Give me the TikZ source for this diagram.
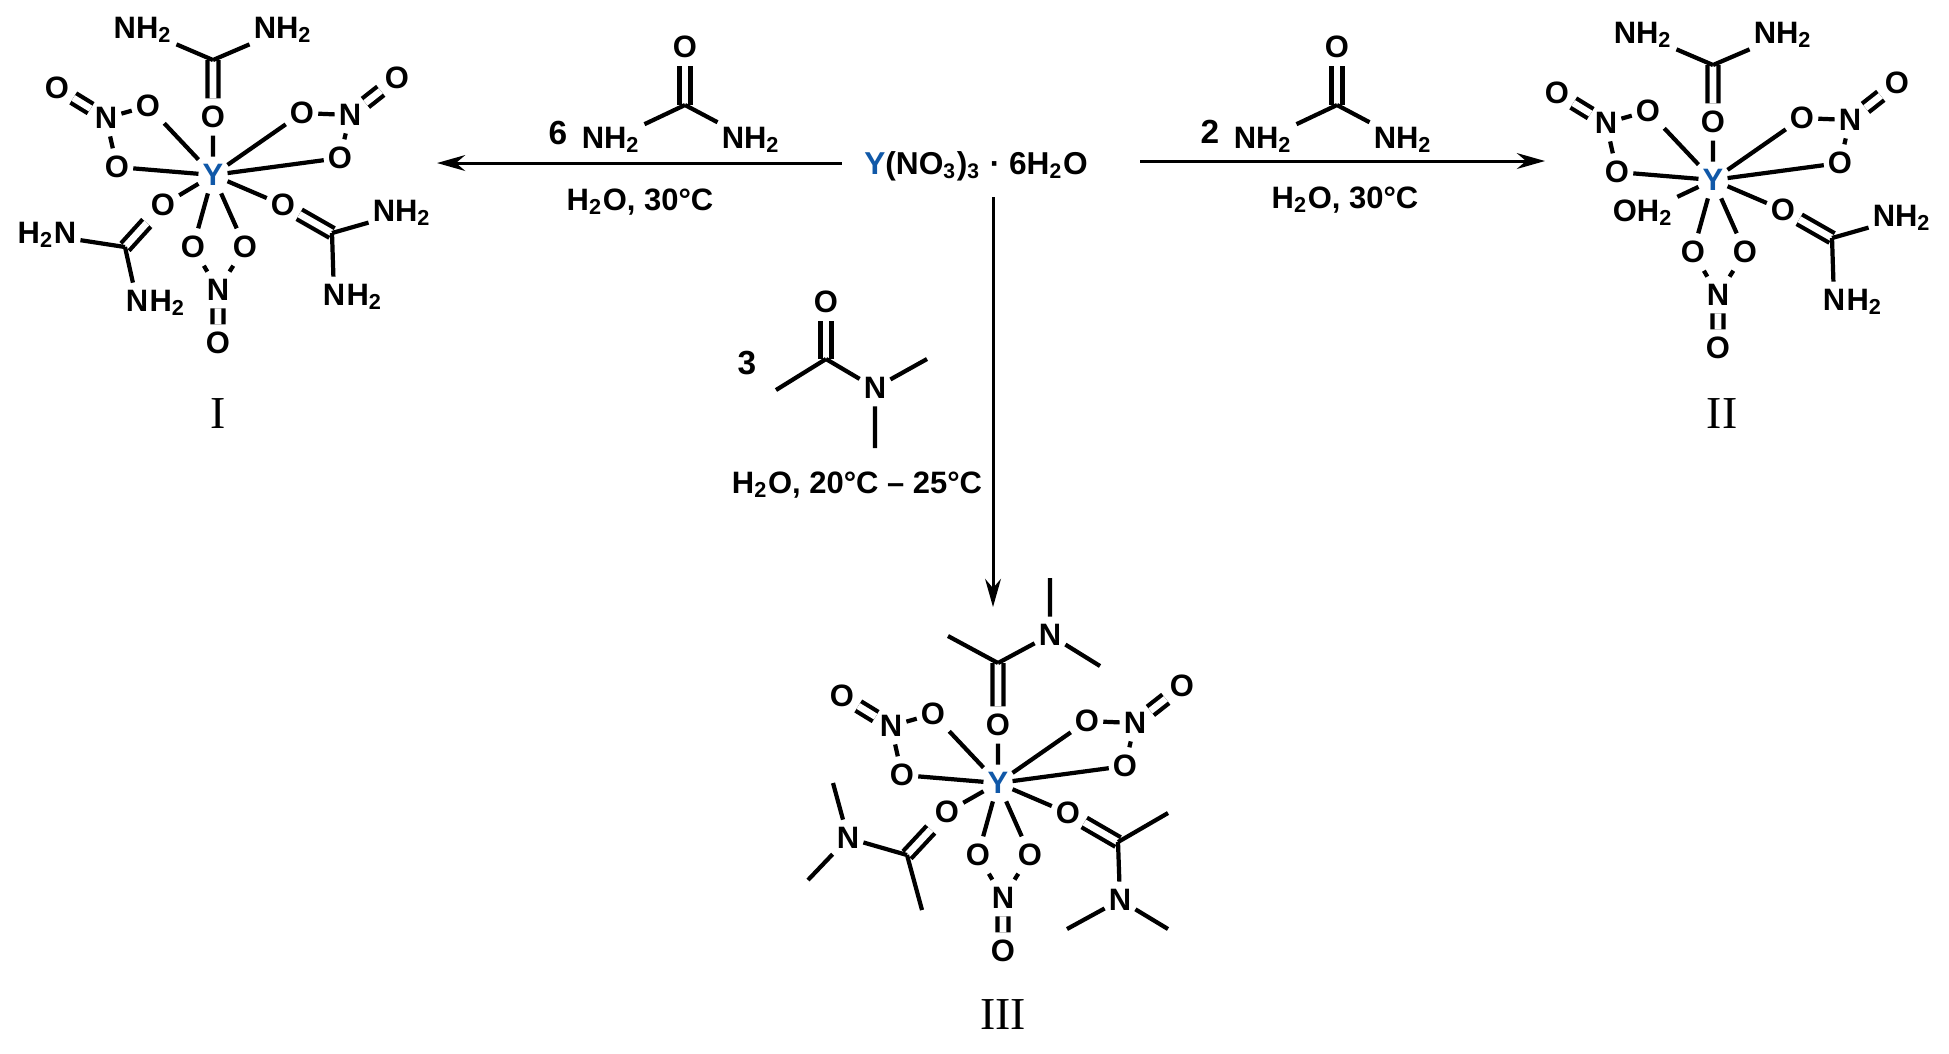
\documentclass[tikz,border=0pt]{standalone}
\usepackage{fontspec}
\setmainfont{Liberation Serif}
\setsansfont{Liberation Sans}
\usetikzlibrary{arrows.meta}
\definecolor{yblue}{RGB}{16,88,168}
\newcommand\chemfont{\fontsize{8.8}{10}\selectfont\sffamily\bfseries}
\tikzset{
  atom/.style={font=\chemfont, inner xsep=1pt, inner ysep=2pt},
  yatom/.style={atom, text=yblue},
  bond/.style={line width=1.2pt},
  dbond/.style={line width=1.2pt, double, double distance=1.9pt},
  rxn/.style={line width=0.85pt, -{Stealth[length=8pt,width=4.5pt]}},
  cmpd/.style={font=\fontsize{13}{15}\selectfont\rmfamily},
  cond/.style={font=\chemfont, inner sep=0pt},
  coef/.style={font=\fontsize{9.5}{11}\selectfont\sffamily\bfseries, inner sep=0pt},
}
\newcommand\NHtwo[2]{%
  \node[atom] (#1) at (#2) {N};
  \node[atom, anchor=base west, inner sep=0pt, xshift=-1pt] (#1h) at (#1.base east) {H\textsubscript{2}};}
\newcommand\ycore[1]{%
  \node[yatom] (#1Y) at (0,0) {Y};
  \node[atom] (#1Ot) at (0,-58) {O};
  \node[atom] (#1a1) at (-65,-69) {O};
  \node[atom] (#1aN) at (-107,-57) {N};
  \node[atom] (#1a2) at (-156,-87) {O};
  \node[atom] (#1a3) at (-96,-8) {O};
  \node[atom] (#1b1) at (89,-62) {O};
  \node[atom] (#1bN) at (137,-60) {N};
  \node[atom] (#1b2) at (184,-97) {O};
  \node[atom] (#1b3) at (127,-17) {O};
  \node[atom] (#1c1) at (-20,72) {O};
  \node[atom] (#1c2) at (32,72) {O};
  \node[atom] (#1cN) at (5,115) {N};
  \node[atom] (#1c3) at (5,168) {O};
  \node[atom] (#1Or) at (70,30) {O};
  \draw[dbond] (#1aN) -- (#1a2) (#1bN) -- (#1b2) (#1cN) -- (#1c3);
  \draw[bond] (#1Y) -- (#1Ot) (#1Y) -- (#1a1) (#1Y) -- (#1a3) (#1Y) -- (#1b1)
    (#1Y) -- (#1b3) (#1Y) -- (#1c1) (#1Y) -- (#1c2) (#1Y) -- (#1Or)
    (#1aN) -- (#1a1) (#1aN) -- (#1a3) (#1bN) -- (#1b1) (#1bN) -- (#1b3)
    (#1cN) -- (#1c1) (#1cN) -- (#1c2);
}
\newcommand\topurea[1]{%
  \coordinate (#1Ct) at (0,-115);
  \node[atom] (#1n1) at (-70,-145) {NH\textsubscript{2}};
  \node[atom] (#1n2) at (70,-145) {NH\textsubscript{2}};
  \coordinate (#1Cr) at (119,58);
  \node[atom] (#1n5) at (189,38) {NH\textsubscript{2}};
  \NHtwo{#1n6}{121,120}
  \draw[dbond] (#1Ct) -- (#1Ot) (#1Cr) -- (#1Or);
  \draw[bond] (#1Ct) -- (#1n1) (#1Ct) -- (#1n2) (#1Cr) -- (#1n5) (#1Cr) -- (#1n6);
}
\begin{document}
\begin{tikzpicture}[x=0.01cm, y=-0.01cm]
\fill[white] (0,0) rectangle (1949,1053);
\useasboundingbox (0,0) rectangle (1949,1053);

% ---------- complex I ----------
\begin{scope}[shift={(213,175)}]
  \ycore{p}
  \topurea{p}
  \node[atom] (pOl) at (-50,30) {O};
  \coordinate (pCl) at (-88,72);
  \node[atom] (pn3) at (-166,60) {H\textsubscript{2}N};
  \NHtwo{pn4}{-76,126}
  \draw[dbond] (pCl) -- (pOl);
  \draw[bond] (pY) -- (pOl) (pCl) -- (pn3) (pCl) -- (pn4);
\end{scope}
\node[cmpd] (labI) at (218,414) {I};

% ---------- complex II ----------
\begin{scope}[shift={(1713,180)}]
  \ycore{q}
  \topurea{q}
  \node[atom] (qw) at (-70,33) {OH\textsubscript{2}};
  \draw[bond] (qY) -- (qw);
\end{scope}
\node[cmpd] (labII) at (1722,414) {II};

% ---------- complex III ----------
\begin{scope}[shift={(998,783)}]
  \ycore{r}
  \coordinate (rCt) at (0,-120);
  \coordinate (rMt) at (-50,-147);
  \node[atom] (rNt) at (52,-148) {N};
  \coordinate (rMt1) at (52,-205);
  \coordinate (rMt2) at (102,-117);
  \node[atom] (rOl) at (-51,29) {O};
  \coordinate (rCl) at (-91,72);
  \coordinate (rMl) at (-76,127);
  \node[atom] (rNl) at (-150,55) {N};
  \coordinate (rMl1) at (-165,0);
  \coordinate (rMl2) at (-190,97);
  \coordinate (rCr) at (120,59);
  \coordinate (rMr) at (170,30);
  \node[atom] (rNr) at (122,117) {N};
  \coordinate (rMr1) at (69,146);
  \coordinate (rMr2) at (170,146);
  \draw[dbond] (rCt) -- (rOt) (rCl) -- (rOl) (rCr) -- (rOr);
  \draw[bond] (rCt) -- (rMt) (rCt) -- (rNt) (rNt) -- (rMt1) (rNt) -- (rMt2)
    (rY) -- (rOl) (rCl) -- (rMl) (rCl) -- (rNl) (rNl) -- (rMl1) (rNl) -- (rMl2)
    (rCr) -- (rMr) (rCr) -- (rNr) (rNr) -- (rMr1) (rNr) -- (rMr2);
\end{scope}
\node[cmpd] (labIII) at (1003,1014) {III};

% ---------- starting material ----------
\node[cond, inner xsep=6.2pt, font=\fontsize{9}{11}\selectfont\sffamily\bfseries] (form) at (976,166)
  {\textcolor{yblue}{Y}(NO\textsubscript{3})\textsubscript{3} · 6H\textsubscript{2}O};

\coordinate (e1) at (437,163);
\coordinate (e2) at (1545,161);
\coordinate (e3) at (993,607);
\draw[rxn] (e1 -| form.west) -- (e1);
\draw[rxn, shorten <=8.5pt] (e2 -| form.east) -- (e2);
\draw[rxn, shorten <=4.5pt] (e3 |- form.south) -- (e3);

% ---------- reagent: 6 urea ----------
\node[coef] (six) at (558,133) {6};
\node[atom] (uO1) at (685,47) {O};
\coordinate (uC1) at (685,105);
\node[atom] (un1) at (611,140) {NH\textsubscript{2}};
\node[atom] (un2) at (751,140) {NH\textsubscript{2}};
\draw[dbond] (uC1) -- (uO1);
\draw[bond] (uC1) -- (un1) (uC1) -- (un2);
\node[cond] (cond1) at (640,202) {H\textsubscript{2}O, 30°C};

% ---------- reagent: 2 urea ----------
\node[coef] (two) at (1210,132) {2};
\node[atom] (uO2) at (1337,47) {O};
\coordinate (uC2) at (1337,105);
\node[atom] (un3) at (1263,140) {NH\textsubscript{2}};
\node[atom] (un4) at (1403,140) {NH\textsubscript{2}};
\draw[dbond] (uC2) -- (uO2);
\draw[bond] (uC2) -- (un3) (uC2) -- (un4);
\node[cond] (cond2) at (1345,200) {H\textsubscript{2}O, 30°C};

% ---------- reagent: 3 DMA ----------
\node[coef] (three) at (747,363) {3};
\node[atom] (dO) at (826,302) {O};
\coordinate (dC) at (826,359);
\coordinate (dM) at (776,390);
\node[atom] (dN) at (875,388) {N};
\coordinate (dM1) at (927,359);
\coordinate (dM2) at (875,448);
\draw[dbond] (dC) -- (dO);
\draw[bond] (dC) -- (dM) (dC) -- (dN) (dN) -- (dM1) (dN) -- (dM2);
\node[cond] (cond3) at (857,485) {H\textsubscript{2}O, 20°C – 25°C};
\end{tikzpicture}
\end{document}
